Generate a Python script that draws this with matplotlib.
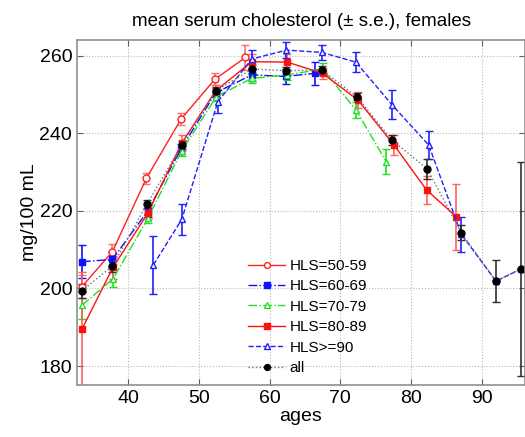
import numpy as np
import matplotlib.pyplot as plt

plt.rcParams['font.family'] = ['Liberation Sans', 'DejaVu Sans']

# HLS=50-59
age_50 = [33.5, 37.8, 42.6, 47.5, 52.3, 56.6]
val_50 = [200.5, 209.5, 228.4, 243.7, 254.0, 259.6]
err_50 = [3.0, 2.0, 1.5, 1.5, 1.5, 3.3]

# HLS=60-69
age_60 = [33.5, 37.8, 42.8, 47.5, 52.4, 57.5, 62.3, 66.4]
val_60 = [206.9, 207.5, 220.0, 236.0, 250.5, 255.1, 254.7, 255.5]
err_60 = [4.2, 2.0, 1.5, 1.2, 1.2, 1.5, 2.0, 3.0]

# HLS=70-79
age_70 = [33.5, 37.9, 42.8, 47.6, 52.5, 57.5, 62.5, 67.5, 72.2, 76.5]
val_70 = [195.7, 202.5, 218.1, 235.5, 249.5, 254.2, 255.1, 256.6, 246.1, 232.7]
err_70 = [3.5, 2.2, 1.2, 1.2, 1.2, 1.2, 1.2, 1.5, 2.0, 3.2]

# HLS=80-89
age_80 = [33.5, 37.9, 42.8, 47.6, 52.4, 57.5, 62.5, 67.5, 72.5, 77.6, 82.2, 86.4]
val_80 = [189.5, 205.5, 219.4, 237.5, 251.0, 258.5, 258.4, 255.5, 248.6, 237.0, 225.4, 218.5]
err_80 = [14.8, 3.0, 1.5, 2.0, 1.5, 2.0, 2.0, 1.5, 2.0, 2.5, 3.6, 8.5]

# HLS>=90
age_90 = [43.6, 47.6, 52.7, 57.5, 62.4, 67.4, 72.2, 77.3, 82.5, 87.1, 92.0, 95.5]
val_90 = [206.1, 217.8, 248.2, 259.2, 261.5, 260.9, 258.4, 247.4, 237.0, 214.0, 201.9, 205.0]
err_90 = [7.4, 4.0, 3.0, 2.3, 2.0, 2.0, 2.5, 3.8, 3.6, 4.5, 0.0, 0.0]

# all
age_all = [33.5, 37.8, 42.7, 47.6, 52.4, 57.5, 62.4, 67.4, 72.3, 77.3, 82.3, 87.1, 92.0, 95.5]
val_all = [199.4, 205.8, 221.8, 237.0, 251.0, 256.6, 256.2, 256.4, 249.5, 238.3, 230.8, 214.4, 201.9, 205.0]
err_all = [1.8, 1.5, 1.0, 1.0, 1.0, 1.0, 1.0, 1.0, 1.0, 1.2, 2.5, 2.0, 5.4, 27.5]

fig = plt.figure(figsize=(5.25, 4.37), dpi=100)
ax = fig.add_axes([77/525, 1 - 385/437, (525 - 77)/525, (385 - 40)/437])

series = [
    (age_50, val_50, err_50, 'HLS=50-59', '#ff2020', '-', 'o', 'white', '#ff7070'),
    (age_60, val_60, err_60, 'HLS=60-69', '#1010ff', '-.', 's', None, '#1010ff'),
    (age_70, val_70, err_70, 'HLS=70-79', '#20e020', '-.', '^', 'white', '#20e020'),
    (age_80, val_80, err_80, 'HLS=80-89', '#ff1010', '-', 's', None, '#ff6060'),
    (age_90, val_90, err_90, 'HLS>=90', '#2020ff', '--', '^', 'white', '#2020ff'),
    (age_all, val_all, err_all, 'all', 'black', ':', 'o', None, '#303030'),
]

handles = []
for a, v, e, lab, col, ls, mk, mfc, ecol in series:
    line_col = '#707070' if col == 'black' else col
    cont = ax.errorbar(a, v, yerr=e, color=line_col, ls=ls, lw=1.0, marker=mk, ms=5,
                       mfc=mfc if mfc else col, mec=col, ecolor=ecol, elinewidth=1.2,
                       capsize=3, capthick=1.0, label=lab)
    handles.append(cont.lines[0])

ax.set_xlim(32.8, 96.1)
ax.set_ylim(175.1, 264.1)
ax.set_xticks([40, 50, 60, 70, 80, 90])
ax.set_yticks([180, 200, 220, 240, 260])
ax.grid(True, ls=':', color='#b8b8b8', lw=0.8)
ax.tick_params(direction='in', top=True, right=True, labelsize=14, color='#606060', length=4)
for s in ax.spines.values():
    s.set_color('#909090')
    s.set_linewidth(1.2)

ax.set_title('mean serum cholesterol (± s.e.), females', fontsize=13.5, pad=10)
ax.set_xlabel('ages', fontsize=14, labelpad=1)
ax.set_ylabel('mg/100 mL', fontsize=14, labelpad=1)

leg = ax.legend(handles, [s[3] for s in series], loc='lower left',
                bbox_to_anchor=(0.36, 0.0), frameon=False,
                fontsize=11, handlelength=2.4, handletextpad=0.3, labelspacing=0.42,
                borderaxespad=0.25, markerscale=0.85)

fig.savefig('out.png', dpi=100)
